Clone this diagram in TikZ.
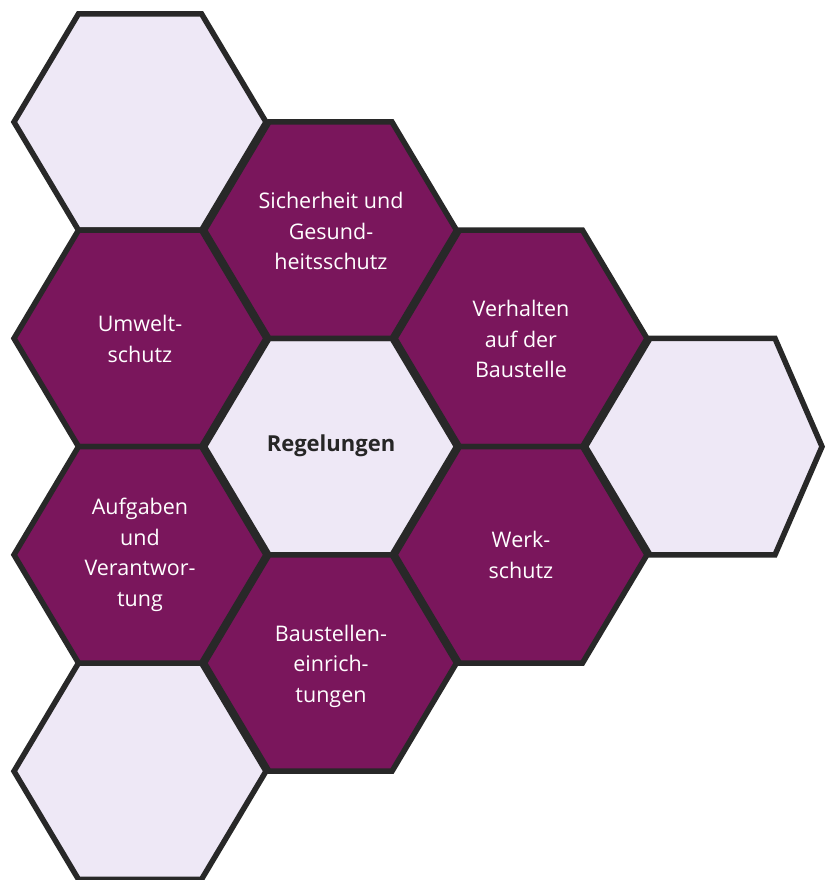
\documentclass[tikz,border=0pt]{standalone}
\usepackage{fontspec}
\setmainfont{Open Sans}
\definecolor{hexpurple}{RGB}{122,22,92}
\definecolor{hexlight}{RGB}{238,232,246}
\definecolor{hexline}{RGB}{40,40,40}
\tikzset{
  hexborder/.style={draw=hexline, line width=5.5pt, line join=miter},
  purplehex/.style={hexborder, fill=hexpurple},
  lighthex/.style={hexborder, fill=hexlight},
  hexlabel/.style={text=white, align=center, font=\fontsize{21.5}{30.5}\selectfont},
  centerlabel/.style={text=black!85, align=center, font=\bfseries\fontsize{22}{26}\selectfont},
  hexa/.pic={\path[pic actions] (-126,0) -- (-61.5,-108.2) -- (61.5,-108.2) -- (126,0) -- (61.5,108.2) -- (-61.5,108.2) -- cycle;}
}
\begin{document}
\begin{tikzpicture}[x=1pt,y=-1pt]
\useasboundingbox (0,0) rectangle (825,880);
% light hexagons
\pic[lighthex] at (140,122) {hexa};
\pic[lighthex] at (140,771.2) {hexa};
\path[lighthex] (585.5,446.6) -- (650,338.4) -- (775,338.4) -- (822,446.6) -- (775,554.8) -- (650,554.8) -- cycle;
\pic[lighthex] at (330.5,446.6) {hexa};
% purple hexagons
\pic[purplehex] at (330.5,230.2) {hexa};
\pic[purplehex] at (140,338.4) {hexa};
\pic[purplehex] at (521,338.4) {hexa};
\pic[purplehex] at (140,554.8) {hexa};
\pic[purplehex] at (521,554.8) {hexa};
\pic[purplehex] at (330.5,663) {hexa};
% labels
\node[hexlabel] (sich) at (331,231) {Sicherheit und\\Gesund-\\heitsschutz};
\node[hexlabel] (umw) at (140,339) {Umwelt-\\schutz};
\node[hexlabel] (verh) at (521,339) {Verhalten\\auf der\\Baustelle};
\node[centerlabel] (reg) at (331,446) {Regelungen};
\node[hexlabel] (aufg) at (140,555) {Aufgaben\\und\\Verantwor-\\tung};
\node[hexlabel] (werk) at (521,555) {Werk-\\schutz};
\node[hexlabel] (baust) at (331,666) {Baustellen-\\einrich-\\tungen};
\end{tikzpicture}
\end{document}
